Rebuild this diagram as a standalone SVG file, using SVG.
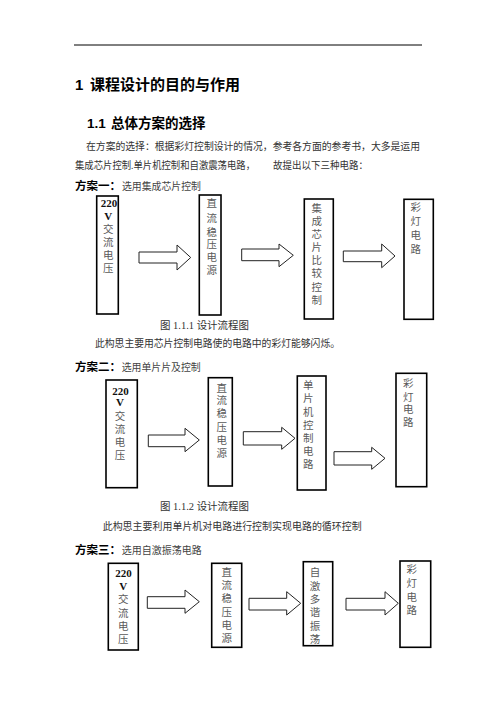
<svg xmlns="http://www.w3.org/2000/svg" width="496" height="702" viewBox="0 0 496 702">
<style>
.bg{fill:#fff}
.box{fill:#fff;stroke:#000;stroke-width:1.6}
.arr{fill:#fff;stroke:#222;stroke-width:1}
.h1{font-family:"Liberation Sans","Noto Sans CJK SC",sans-serif;font-weight:bold;font-size:15px;fill:#000}
.h2{font-family:"Liberation Sans","Noto Sans CJK SC",sans-serif;font-weight:bold;font-size:13.5px;fill:#000}
.p{font-family:"Liberation Serif","Noto Sans CJK SC",serif;font-size:10.5px;fill:#333}
.lab{font-family:"Liberation Sans","Noto Sans CJK SC",sans-serif;font-weight:bold;font-size:11.5px;fill:#000}
.sub{font-family:"Liberation Serif","Noto Sans CJK SC",serif;font-size:10px;fill:#444}
.bt{font-family:"Liberation Serif","Noto Sans CJK SC",serif;font-size:10.5px;fill:#5a5a5a;text-anchor:middle}
.num{font-family:"Liberation Serif",serif;font-size:11px;font-weight:bold;fill:#111;text-anchor:middle}
</style>
<rect class="bg" x="0" y="0" width="496" height="702"/>
<line x1="74" y1="45" x2="422" y2="45" stroke="#000" stroke-width="1"/>
<text class="h1" y="90"><tspan x="75">1</tspan><tspan x="90">课程设计的目的与作用</tspan></text>
<text class="h2" y="128"><tspan x="87">1.1</tspan><tspan x="111">总体方案的选择</tspan></text>
<text class="p" x="86" y="150" textLength="334" lengthAdjust="spacingAndGlyphs">在方案的选择：根据彩灯控制设计的情况，参考各方面的参考书，大多是运用</text>
<text class="p" x="75" y="168.5" textLength="180" lengthAdjust="spacingAndGlyphs">集成芯片控制.单片机控制和自激震荡电路，</text>
<text class="p" x="273" y="168.5" textLength="95" lengthAdjust="spacingAndGlyphs">故提出以下三种电路：</text>

<!-- Scheme 1 -->
<text class="lab" x="75" y="190">方案一：</text>
<text class="sub" x="122" y="190" textLength="79" lengthAdjust="spacingAndGlyphs">选用集成芯片控制</text>
<g id="s1-n1"><rect class="box" x="96.7" y="196" width="21.6" height="118"/>
<text class="num"><tspan x="109" y="207">220</tspan><tspan x="108.3" y="219.7">V</tspan></text>
<text class="bt"><tspan x="108.3" y="233">交</tspan><tspan x="108.3" y="245.7">流</tspan><tspan x="108.3" y="259">电</tspan><tspan x="108.3" y="272">压</tspan></text></g>
<g id="s1-n2"><rect class="box" x="199.3" y="195" width="21.7" height="120"/>
<text class="bt"><tspan x="211.7" y="207">直</tspan><tspan x="211.7" y="222">流</tspan><tspan x="211.7" y="235.7">稳</tspan><tspan x="211.7" y="248">压</tspan><tspan x="211.7" y="261">电</tspan><tspan x="211.7" y="274">源</tspan></text></g>
<g id="s1-n3"><rect class="box" x="304.3" y="199" width="29" height="120"/>
<text class="bt"><tspan x="316.7" y="212">集</tspan><tspan x="316.7" y="225">成</tspan><tspan x="316.7" y="238">芯</tspan><tspan x="316.7" y="250.7">片</tspan><tspan x="316.7" y="264">比</tspan><tspan x="316.7" y="277">较</tspan><tspan x="316.7" y="290.7">控</tspan><tspan x="316.7" y="304">制</tspan></text></g>
<g id="s1-n4"><rect class="box" x="404" y="199.3" width="29.3" height="120"/>
<text class="bt"><tspan x="415.7" y="211">彩</tspan><tspan x="415.7" y="225">灯</tspan><tspan x="415.7" y="239">电</tspan><tspan x="415.7" y="253">路</tspan></text></g>
<text class="p" x="160" y="328.5" textLength="89" lengthAdjust="spacingAndGlyphs">图 1.1.1 设计流程图</text>
<text class="p" x="95" y="347" textLength="245" lengthAdjust="spacingAndGlyphs">此构思主要用芯片控制电路使的电路中的彩灯能够闪烁。</text>

<!-- Scheme 2 -->
<text class="lab" x="75" y="370.5">方案二：</text>
<text class="sub" x="121.7" y="370.5" textLength="79" lengthAdjust="spacingAndGlyphs">选用单片片及控制</text>
<g id="s2-n1"><rect class="box" x="106" y="380" width="31.3" height="107.7"/>
<text class="num"><tspan x="120.5" y="394.7">220</tspan><tspan x="120" y="405.7">V</tspan></text>
<text class="bt"><tspan x="120" y="420">交</tspan><tspan x="120" y="433">流</tspan><tspan x="120" y="446.3">电</tspan><tspan x="120" y="459">压</tspan></text></g>
<g id="s2-n2"><rect class="box" x="208.3" y="377.7" width="24" height="108.3"/>
<text class="bt"><tspan x="221.7" y="391.7">直</tspan><tspan x="221.7" y="404">流</tspan><tspan x="221.7" y="417.3">稳</tspan><tspan x="221.7" y="430.7">压</tspan><tspan x="221.7" y="444">电</tspan><tspan x="221.7" y="457">源</tspan></text></g>
<g id="s2-n3"><rect class="box" x="297.3" y="376" width="28.7" height="114"/>
<text class="bt"><tspan x="308.3" y="389">单</tspan><tspan x="308.3" y="402.3">片</tspan><tspan x="308.3" y="415.7">机</tspan><tspan x="308.3" y="429">控</tspan><tspan x="308.3" y="441.7">制</tspan><tspan x="308.3" y="454.7">电</tspan><tspan x="308.3" y="468">路</tspan></text></g>
<g id="s2-n4"><rect class="box" x="396" y="373.3" width="30.7" height="113.4"/>
<text class="bt"><tspan x="408.3" y="387.3">彩</tspan><tspan x="408.3" y="400.7">灯</tspan><tspan x="408.3" y="413.3">电</tspan><tspan x="408.3" y="425.7">路</tspan></text></g>
<text class="p" x="160" y="510" textLength="89" lengthAdjust="spacingAndGlyphs">图 1.1.2 设计流程图</text>
<text class="p" x="102.7" y="529.5" textLength="259" lengthAdjust="spacingAndGlyphs">此构思主要利用单片机对电路进行控制实现电路的循环控制</text>

<!-- Scheme 3 -->
<text class="lab" x="75" y="554.3">方案三：</text>
<text class="sub" x="121.7" y="554.3" textLength="80" lengthAdjust="spacingAndGlyphs">选用自激振荡电路</text>
<g id="s3-n1"><rect class="box" x="108.3" y="563.3" width="30" height="86.7"/>
<text class="num"><tspan x="123.5" y="577.3">220</tspan><tspan x="123.3" y="590">V</tspan></text>
<text class="bt"><tspan x="123.3" y="603.3">交</tspan><tspan x="123.3" y="616.7">流</tspan><tspan x="123.3" y="630">电</tspan><tspan x="123.3" y="643.3">压</tspan></text></g>
<g id="s3-n2"><rect class="box" x="211.7" y="563.3" width="30" height="84"/>
<text class="bt"><tspan x="226.7" y="575.7">直</tspan><tspan x="226.7" y="589">流</tspan><tspan x="226.7" y="602.3">稳</tspan><tspan x="226.7" y="615.7">压</tspan><tspan x="226.7" y="629">电</tspan><tspan x="226.7" y="642.3">源</tspan></text></g>
<g id="s3-n3"><rect class="box" x="303.3" y="561.7" width="29.4" height="84"/>
<text class="bt"><tspan x="315" y="575.7">自</tspan><tspan x="315" y="589.7">激</tspan><tspan x="315" y="603">多</tspan><tspan x="315" y="616.3">谐</tspan><tspan x="315" y="629.7">振</tspan><tspan x="315" y="643">荡</tspan></text></g>
<g id="s3-n4"><rect class="box" x="400" y="561" width="30.7" height="86.3"/>
<text class="bt"><tspan x="411.7" y="573.3">彩</tspan><tspan x="411.7" y="587.3">灯</tspan><tspan x="411.7" y="600.7">电</tspan><tspan x="411.7" y="614">路</tspan></text></g>

<g id="connectors">
<polygon class="arr" points="139,252 177,252 177,245 190.7,257.5 177,270 177,263 139,263"/>
<polygon class="arr" points="241.7,249 279,249 279,244 293.3,255.3 279,266.7 279,260.7 241.7,260.7"/>
<polygon class="arr" points="343.3,251 381.7,251 381.7,244 395,256 381.7,267.7 381.7,261.7 343.3,261.7"/>
<polygon class="arr" points="148.3,435 185,435 185,428.3 199.3,440 185,451.7 185,446.7 148.3,446.7"/>
<polygon class="arr" points="243.3,431.7 281.7,431.7 281.7,427.3 295,438.3 281.7,449.3 281.7,445 243.3,445"/>
<polygon class="arr" points="334,451.7 371.7,451.7 371.7,447.3 385,458.3 371.7,469.3 371.7,465 334,465"/>
<polygon class="arr" points="147.3,596.7 185,596.7 185,590 199.3,601.7 185,613.3 185,608.3 147.3,608.3"/>
<polygon class="arr" points="249,598.3 286.7,598.3 286.7,591.7 300.7,603.3 286.7,615 286.7,610 249,610"/>
<polygon class="arr" points="346,598.3 385,598.3 385,591.7 398.3,603.3 385,615 385,610 346,610"/>
</g>
</svg>
